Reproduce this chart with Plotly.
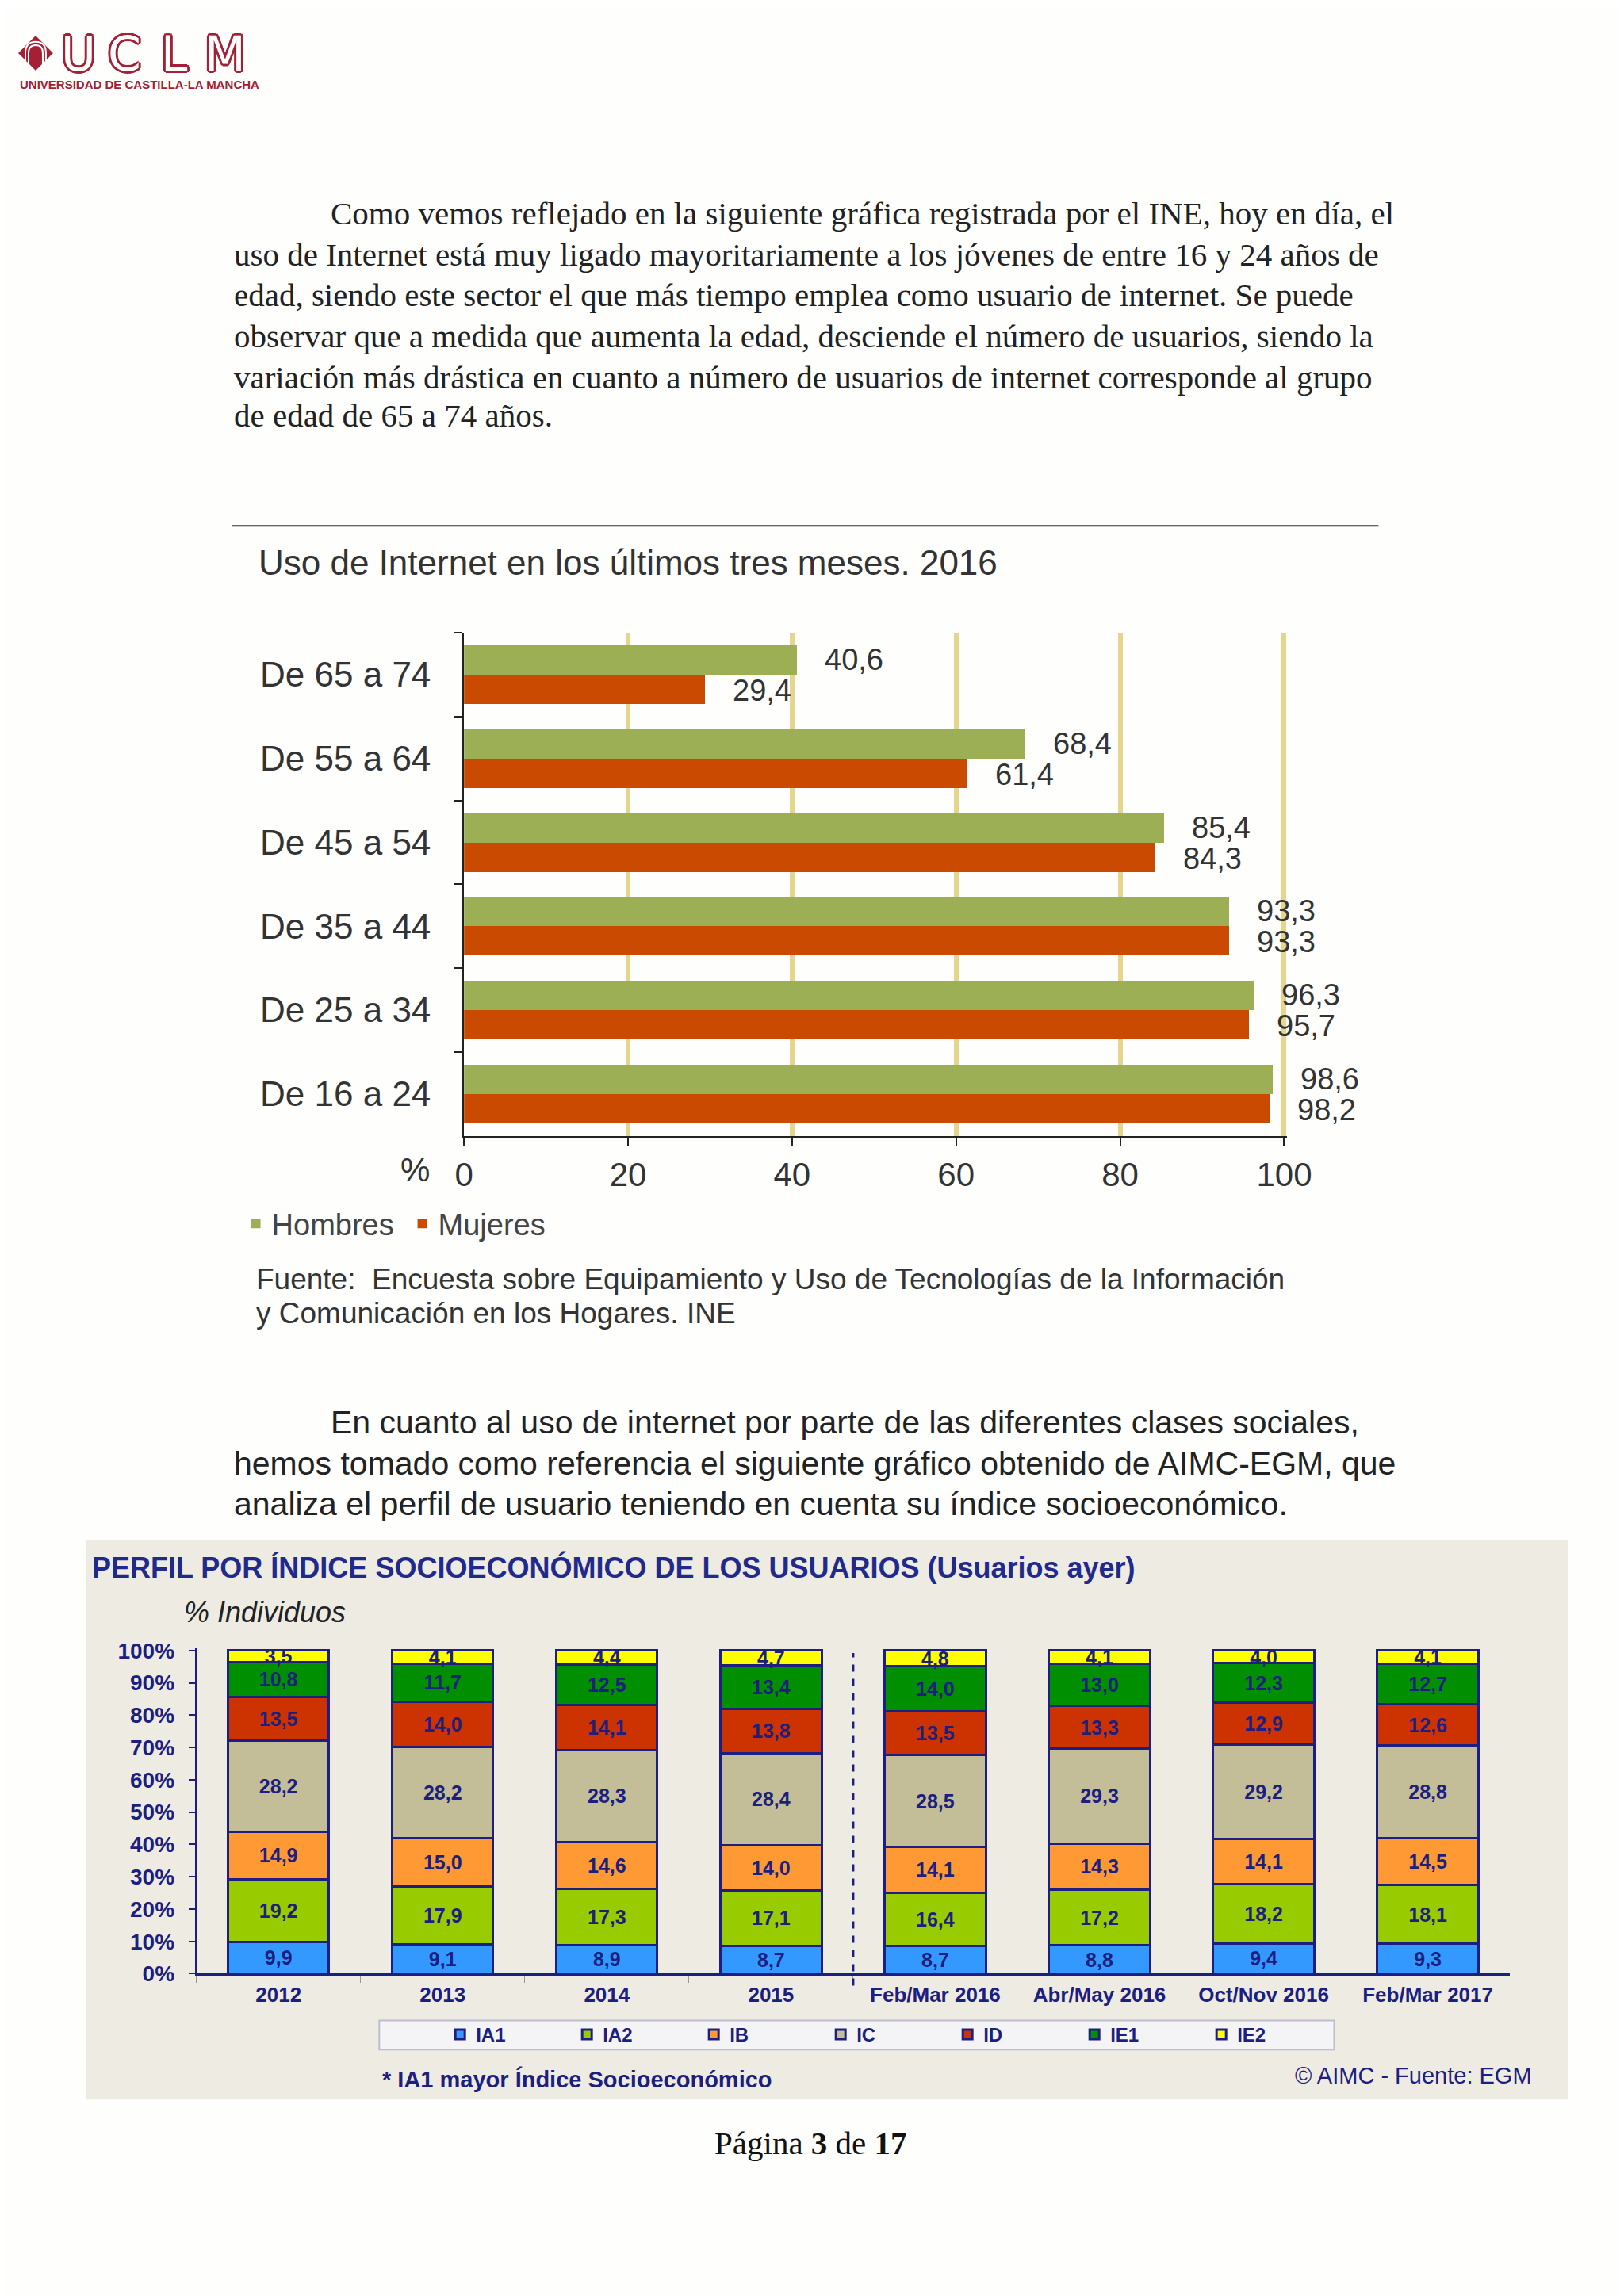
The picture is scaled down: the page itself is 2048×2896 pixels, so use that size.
import plotly.graph_objects as go

# figure size; the rendered page maps figure pixels with a small offset/scale,
# so reference-page pixel positions are converted through it
W, H = 2048, 2896
OX, OY = 19.0, 20.0
SX, SY = 0.98, 0.991


def px(x):
    return ((x - OX) / SX) / W


def py(y):
    return 1 - ((y - OY) / SY) / H


# ---------------- data: top chart (INE) ----------------
edades = ["De 65 a 74", "De 55 a 64", "De 45 a 54", "De 35 a 44", "De 25 a 34", "De 16 a 24"]
hombres = [40.6, 68.4, 85.4, 93.3, 96.3, 98.6]
mujeres = [29.4, 61.4, 84.3, 93.3, 95.7, 98.2]
ticks_top = [0, 20, 40, 60, 80, 100]

# ---------------- data: bottom chart (AIMC-EGM) ----------------
periodos = ["2012", "2013", "2014", "2015", "Feb/Mar 2016", "Abr/May 2016", "Oct/Nov 2016", "Feb/Mar 2017"]
indices = ["IA1", "IA2", "IB", "IC", "ID", "IE1", "IE2"]
IA1 = [9.9, 9.1, 8.9, 8.7, 8.7, 8.8, 9.4, 9.3]
IA2 = [19.2, 17.9, 17.3, 17.1, 16.4, 17.2, 18.2, 18.1]
IB = [14.9, 15.0, 14.6, 14.0, 14.1, 14.3, 14.1, 14.5]
IC = [28.2, 28.2, 28.3, 28.4, 28.5, 29.3, 29.2, 28.8]
ID = [13.5, 14.0, 14.1, 13.8, 13.5, 13.3, 12.9, 12.6]
IE1 = [10.8, 11.7, 12.5, 13.4, 14.0, 13.0, 12.3, 12.7]
IE2 = [3.5, 4.1, 4.4, 4.7, 4.8, 4.1, 4.0, 4.1]
ticks_pct = [0, 10, 20, 30, 40, 50, 60, 70, 80, 90, 100]

series_bottom = [IA1, IA2, IB, IC, ID, IE1, IE2]
colores_bottom = ["#3399FF", "#99CC00", "#FF9933", "#C3BD98", "#CC3300", "#008F00", "#FFFF00"]

NAVY = "#1c1f80"
GREY = "#333333"
SANS = "Liberation Sans, Arial, sans-serif"
SERIF = "Liberation Serif, Times New Roman, serif"
UCLM_RED = "#A32035"


def coma(v):
    return f"{v:.1f}".replace(".", ",")


fig = go.Figure()

# ---------- top chart traces ----------
fig.add_trace(go.Bar(
    y=edades, x=hombres, orientation="h", name="Hombres",
    marker=dict(color="#9DAF55", line=dict(width=0)),
    offsetgroup="h", xaxis="x", yaxis="y", legend="legend", hoverinfo="skip",
))
fig.add_trace(go.Bar(
    y=edades, x=mujeres, orientation="h", name="Mujeres",
    marker=dict(color="#C94A00", line=dict(width=0)),
    offsetgroup="m", xaxis="x", yaxis="y", legend="legend", hoverinfo="skip",
))

# ---------- bottom chart traces ----------
for nombre, vals, col in zip(indices, series_bottom, colores_bottom):
    fig.add_trace(go.Bar(
        x=periodos, y=vals, name=nombre, width=0.615,
        marker=dict(color=col, line=dict(color=NAVY, width=3)),
        text=[coma(v) for v in vals], textposition="inside",
        insidetextanchor="middle", textangle=0, constraintext="none",
        textfont=dict(family=SANS, size=25, color=NAVY, weight="bold"),
        offsetgroup="s", xaxis="x2", yaxis="y2", legend="legend2", hoverinfo="skip",
    ))

annotations = []


def txt(x, y, text, size, color, family=SANS, xanchor="left", **kw):
    annotations.append(dict(
        x=px(x), y=py(y), xref="paper", yref="paper", text=text, showarrow=False,
        xanchor=xanchor, yanchor="middle", font=dict(size=size, color=color, family=family, **kw),
    ))


# value labels on top chart
for cat, h, m in zip(edades, hombres, mujeres):
    annotations.append(dict(x=h, y=cat, xref="x", yref="y", text=coma(h), showarrow=False,
                            xanchor="left", xshift=33, yshift=19,
                            font=dict(size=38, color=GREY, family=SANS)))
    annotations.append(dict(x=m, y=cat, xref="x", yref="y", text=coma(m), showarrow=False,
                            xanchor="left", xshift=33, yshift=-20,
                            font=dict(size=38, color=GREY, family=SANS)))

# paragraph 1 (serif)
p1 = [
    (415, 268, "Como vemos reflejado en la siguiente gráfica registrada por el INE, hoy en día, el"),
    (292, 320, "uso de Internet está muy ligado mayoritariamente a los jóvenes de entre 16 y 24 años de"),
    (292, 371, "edad, siendo este sector el que más tiempo emplea como usuario de internet. Se puede"),
    (292, 423, "observar que a medida que aumenta la edad, desciende el número de usuarios, siendo la"),
    (292, 475, "variación más drástica en cuanto a número de usuarios de internet corresponde al grupo"),
    (292, 524, "de edad de 65 a 74 años."),
]
for x, y, t in p1:
    txt(x, y, t, 41, "#222222", family=SERIF)

# paragraph 2 (sans)
p2 = [
    (415, 1795, "En cuanto al uso de internet por parte de las diferentes clases sociales,"),
    (292, 1847, "hemos tomado como referencia el siguiente gráfico obtenido de AIMC-EGM, que"),
    (292, 1898, "analiza el perfil de usuario teniendo en cuenta su índice socioeconómico."),
]
for x, y, t in p2:
    txt(x, y, t, 41, "#222222")

# top chart texts
txt(323, 709, "Uso de Internet en los últimos tres meses. 2016", 44, GREY)
txt(523, 1476, "%", 42, GREY, xanchor="center")
txt(320, 1614, "Fuente:\u00a0 Encuesta sobre Equipamiento y Uso de Tecnologías de la Información", 37, GREY)
txt(320, 1657, "y Comunicación en los Hogares. INE", 37, GREY)

# bottom chart texts
txt(113, 1978, "PERFIL POR ÍNDICE SOCIOECONÓMICO DE LOS USUARIOS (Usuarios ayer)", 36, "#1f2a8c", weight="bold")
txt(229, 2035, "% Individuos", 36, "#222222", style="italic")
txt(480, 2624, "* IA1 mayor Índice Socioeconómico", 29, NAVY, weight="bold")
txt(1936, 2620, "© AIMC - Fuente: EGM", 29, NAVY, xanchor="right")

# footer
annotations.append(dict(x=px(1023), y=py(2705), xref="paper", yref="paper",
                        text="Página <b>3</b> de <b>17</b>", showarrow=False,
                        xanchor="center", yanchor="middle",
                        font=dict(size=41, color="#111111", family=SERIF)))

# logo letters (outlined)
outline = ", ".join(f"{UCLM_RED} {dx}px {dy}px 0" for dx, dy in
                    [(3, 0), (-3, 0), (0, 3), (0, -3), (2, 2), (-2, -2), (2, -2), (-2, 2)])
for cx, letra in zip([98, 156, 219, 283], "UCLM"):
    annotations.append(dict(x=px(cx), y=py(67), xref="paper", yref="paper", text=letra,
                            showarrow=False, xanchor="center", yanchor="middle",
                            font=dict(size=60, color="white", family="DejaVu Sans", shadow=outline)))
txt(22, 106, "UNIVERSIDAD DE CASTILLA-LA MANCHA", 15, UCLM_RED, weight="bold")

shapes = []


def rect(x0, y0, x1, y1, fill, line_color=None, lw=0, layer="below"):
    shapes.append(dict(type="rect", xref="paper", yref="paper",
                       x0=px(x0), x1=px(x1), y0=py(y1), y1=py(y0),
                       fillcolor=fill, line=dict(color=line_color or fill, width=lw), layer=layer))


# bottom panel background and legend box
rect(107, 1943, 1980, 2650, "#EEEBE3")
rect(478, 2550, 1684, 2587, "#F4F4F7", "#BDBDCB", 2)

# separator line above top chart
shapes.append(dict(type="line", xref="paper", yref="paper", x0=px(292), x1=px(1740),
                   y0=py(663), y1=py(663), line=dict(color="#333333", width=2)))

# logo diamond
dpath = f"M{px(22)},{py(66)} L{px(44)},{py(44)} L{px(66)},{py(66)} L{px(44)},{py(88)} Z"
shapes.append(dict(type="path", xref="paper", yref="paper", path=dpath,
                   fillcolor=UCLM_RED, line=dict(width=0)))
for r in (13, 9):
    apath = (f"M{px(44 - r)},{py(80)} L{px(44 - r)},{py(66)} "
             f"Q{px(44 - r)},{py(66 - r * 1.1)} {px(44)},{py(66 - r * 1.1)} "
             f"Q{px(44 + r)},{py(66 - r * 1.1)} {px(44 + r)},{py(66)} L{px(44 + r)},{py(80)}")
    shapes.append(dict(type="path", xref="paper", yref="paper", path=apath,
                       line=dict(color="white", width=2)))

# bottom chart domain and dashed separator between 2015 and Feb/Mar 2016
dom2 = [px(247), px(1906)]
rng2 = [-0.5, len(periodos) - 0.5]
sep_pos = 3.5
sep_x = dom2[0] + (sep_pos - rng2[0]) / (rng2[1] - rng2[0]) * (dom2[1] - dom2[0])
shapes.append(dict(type="line", xref="paper", yref="paper", x0=sep_x, x1=sep_x,
                   y0=py(2506), y1=py(2086), line=dict(color=NAVY, width=3, dash="dash")))

fig.update_layout(
    width=W, height=H,
    margin=dict(l=0, r=0, t=0, b=0),
    paper_bgcolor="#FEFEFD", plot_bgcolor="rgba(0,0,0,0)",
    barmode="stack", bargap=0.3, bargroupgap=0,
    showlegend=True,
    xaxis=dict(domain=[px(585), px(1624)], range=[0, 100.3], tickvals=ticks_top,
               showgrid=True, gridcolor="#E5D68E", gridwidth=6, zeroline=False,
               showline=True, linecolor="#222222", linewidth=3,
               ticks="outside", ticklen=10, tickwidth=2, tickcolor="#222222",
               tickfont=dict(size=42, color=GREY, family=SANS), anchor="y"),
    yaxis=dict(domain=[py(1433), py(798)], type="category", categoryorder="array",
               categoryarray=edades, autorange="reversed",
               showline=True, linecolor="#222222", linewidth=3, showgrid=False,
               ticks="outside", tickson="boundaries", ticklen=10, tickwidth=2, tickcolor="#222222",
               ticklabelstandoff=30,
               tickfont=dict(size=44, color=GREY, family=SANS), anchor="x"),
    xaxis2=dict(domain=dom2, range=rng2, type="category", categoryorder="array",
                categoryarray=periodos, showgrid=False, zeroline=False,
                showline=True, linecolor=NAVY, linewidth=4,
                ticks="outside", tickson="boundaries", ticklen=8, tickwidth=1, tickcolor="#999999",
                tickfont=dict(size=26, color=NAVY, family=SANS, weight="bold"), anchor="y2"),
    yaxis2=dict(domain=[py(2491), py(2080.5)], range=[0, 100.6], tickvals=ticks_pct,
                ticktext=[f"{v}%" for v in ticks_pct], showgrid=False, zeroline=False,
                showline=True, linecolor=NAVY, linewidth=2,
                ticks="outside", ticklen=8, tickwidth=2, tickcolor=NAVY,
                ticklabelstandoff=12,
                tickfont=dict(size=28, color=NAVY, family=SANS, weight="bold"), anchor="x2"),
    legend=dict(orientation="h", x=px(302), y=py(1544), xanchor="left", yanchor="middle",
                bgcolor="rgba(0,0,0,0)", font=dict(size=38, color="#444444", family=SANS),
                traceorder="normal", entrywidth=165, entrywidthmode="pixels"),
    legend2=dict(orientation="h", x=px(560), y=py(2568), xanchor="left", yanchor="middle",
                 bgcolor="rgba(0,0,0,0)", font=dict(size=24, color=NAVY, family=SANS, weight="bold"),
                 traceorder="normal", entrywidth=115, entrywidthmode="pixels"),
    annotations=annotations,
    shapes=shapes,
)

fig.write_html("out.html")
